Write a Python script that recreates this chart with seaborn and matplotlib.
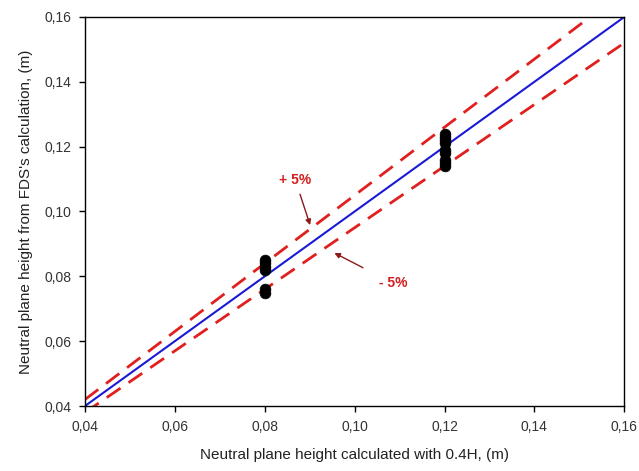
import numpy as np
import pandas as pd
import matplotlib
matplotlib.use("Agg")
import matplotlib.pyplot as plt
import matplotlib.ticker as mticker
import seaborn as sns

# Data
x_pts = [0.08, 0.08, 0.08, 0.08, 0.08, 0.08,
         0.12, 0.12, 0.12, 0.12, 0.12, 0.12, 0.12, 0.12, 0.12]
y_pts = [0.085, 0.084, 0.083, 0.082, 0.076, 0.075,
         0.124, 0.123, 0.122, 0.121, 0.119, 0.118, 0.116, 0.115, 0.114]
line_x = [0.04, 0.16]
ratio_main = 1.0
ratio_plus = 1.05
ratio_minus = 0.95
tick_vals = [0.04, 0.06, 0.08, 0.10, 0.12, 0.14, 0.16]

sns.set_style("white")
plt.rcParams['font.family'] = ['Liberation Sans', 'DejaVu Sans']

fig = plt.figure(figsize=(6.39, 4.71), dpi=100)
ax = fig.add_axes([0.133, 0.138, 0.844, 0.826])

lx = np.array(line_x)
df_lines = pd.DataFrame({
    "x": np.concatenate([lx, lx, lx]),
    "y": np.concatenate([lx * ratio_main, lx * ratio_plus, lx * ratio_minus]),
    "s": ["main"] * 2 + ["plus"] * 2 + ["minus"] * 2,
})
sns.lineplot(data=df_lines[df_lines.s == "plus"], x="x", y="y", ax=ax,
             color="#e0201e", lw=2, dashes=False, legend=False)
sns.lineplot(data=df_lines[df_lines.s == "minus"], x="x", y="y", ax=ax,
             color="#e0201e", lw=2, dashes=False, legend=False)
for l in ax.lines:
    l.set_linestyle((0, (6, 3.5)))
sns.lineplot(data=df_lines[df_lines.s == "main"], x="x", y="y", ax=ax,
             color="#1a1ad6", lw=1.5, legend=False)

df_pts = pd.DataFrame({"x": x_pts, "y": y_pts})
sns.scatterplot(data=df_pts, x="x", y="y", ax=ax, color="black", s=60,
                edgecolor="black", linewidth=0.5, zorder=5)

ax.set_xlim(0.04, 0.16)
ax.set_ylim(0.04, 0.16)
ax.set_xticks(tick_vals)
ax.set_yticks(tick_vals)
fmt = mticker.FuncFormatter(lambda v, p: f"{v:.2f}".replace(".", ","))
ax.xaxis.set_major_formatter(fmt)
ax.yaxis.set_major_formatter(fmt)
ax.tick_params(axis="both", which="major", direction="out", length=4, width=1,
               labelsize=10, colors="black", labelcolor="#333333",
               bottom=True, left=True, pad=6)
for sp in ax.spines.values():
    sp.set_color("black")
    sp.set_linewidth(1)

ax.set_xlabel("Neutral plane height calculated with 0.4H, (m)", fontsize=11,
              labelpad=10, color="#222222")
ax.set_ylabel("Neutral plane height from FDS's calculation, (m)", fontsize=11,
              labelpad=8, color="#222222")

ax.annotate("+ 5%", xy=(0.0901, 0.0958), xytext=(0.0868, 0.1097),
            color="#d42020", fontsize=10, fontweight="bold", ha="center", va="center",
            arrowprops=dict(arrowstyle="-|>", color="#8b1a1a", lw=1, mutation_scale=8,
                            shrinkA=3, shrinkB=0))
ax.annotate("- 5%", xy=(0.0955, 0.0872), xytext=(0.1085, 0.0779),
            color="#d42020", fontsize=10, fontweight="bold", ha="center", va="center",
            arrowprops=dict(arrowstyle="-|>", color="#8b1a1a", lw=1, mutation_scale=8,
                            shrinkA=10, shrinkB=0))

fig.savefig("out.png", dpi=100)
